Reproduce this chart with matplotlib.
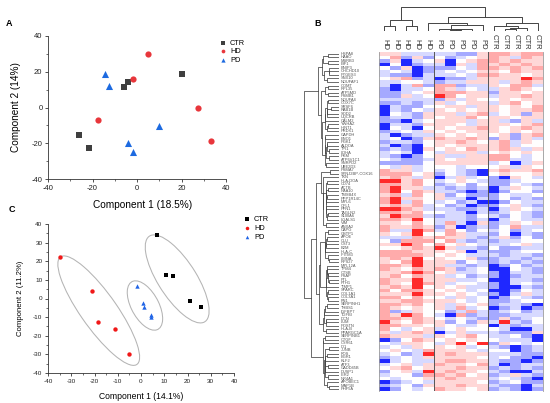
import numpy as np
import matplotlib
matplotlib.use("Agg")
import matplotlib.pyplot as plt
from matplotlib.patches import Ellipse
from matplotlib.colors import LinearSegmentedColormap

plt.rcParams["font.family"] = ["Liberation Sans", "DejaVu Sans"]
plt.rcParams["axes.unicode_minus"] = False

# ---------------------------------------------------------------------------
# Data
# ---------------------------------------------------------------------------

GROUPS = ["CTR", "HD", "PD"]

# Panel A: PCA scores (Component 1 = 18.5 %, Component 2 = 14 %)
A_CTR_X = [-26.2, -21.7, -5.8, -3.9, 20.2]
A_CTR_Y = [-15.6, -22.5, 11.3, 14.0, 18.6]
A_HD_X = [4.9, -1.9, -17.5, 27.4, 33.3]
A_HD_Y = [30.0, 16.0, -7.1, -0.2, -18.8]
A_PD_X = [-14.5, -12.4, 9.9, -4.0, -1.8]
A_PD_Y = [18.8, 12.3, -10.2, -19.9, -24.7]

# Panel C: PLS-DA scores (Component 1 = 14.1 %, Component 2 = 11.2 %)
C_CTR_X = [6.7, 10.6, 13.7, 21.1, 25.7]
C_CTR_Y = [34.1, 12.4, 12.0, -1.4, -4.5]
C_HD_X = [-34.9, -21.0, -18.6, -11.3, -5.1]
C_HD_Y = [22.4, 3.8, -12.7, -16.3, -29.8]
C_PD_X = [-1.9, 0.7, 1.3, 4.1, 4.3]
C_PD_Y = [6.6, -2.3, -4.5, -8.6, -10.0]

# Panel B: heatmap, samples in dendrogram order
COLUMN_LABELS = ["HD"] * 5 + ["PD"] * 5 + ["CTR"] * 5

# column dendrogram merges: (node_a, node_b, height); new nodes numbered from 15
COLUMN_MERGES = [
    (0, 1, 14), (2, 3, 14), (15, 16, 32),
    (6, 7, 4), (18, 8, 6), (5, 19, 7), (20, 9, 17), (4, 21, 22),
    (11, 12, 6), (23, 13, 8), (10, 24, 14), (25, 14, 24),
    (22, 26, 40), (17, 27, 70),
]

# z-score levels
LEVELS = {"B": -2.0, "b": -0.8, "c": -0.35, "w": 0.0, "p": 0.35, "r": 0.75, "R": 1.9}

HEAT_ROWS = [
    "ppccc ccbbp rrprr", "wrbpb wbcwp rpcrp", "bpBcw pBwpr rprpp", "BwBbc cBpcr prprp",
    "wbpBb bbwcr rprpr", "cwcBb cwcwp pwrpp", "cbbBc ccwcr rppwp", "wprbc Bbbcp pppRr",
    "ccwwc bccpp pcprp", "cBcrb rrbcc pwrrc", "bBccw rpcwc cprpw", "bbcwp rrrpp bppwp",
    "bbpcw Rrwpp cpprp", "ccccc bpcpw wpwpp", "bbcbc pcwpp cprwp", "Bcbbw wppcp pwpwr",
    "Bcbwc pwpwp pwppr", "Bwcbp ppcpr cwpbp", "bccbp wpprw ppwpp", "bbBcw pppcp pcbpc",
    "Bccbp ppwcp ppwpr", "BwcBw pwppr pwprp", "bcwcp wpwpp pwpwp", "cBbcc pwpwp wpbpr",
    "cwBbp rpprp bpbpc", "bccbw pprpw prcpw", "cBbBw pwppp prcww", "bcbBp wpwrp prpcp",
    "cwcBw cpppc wpwpw", "cbBbw pccpp rrwcw", "wcbbc pwppp rrccw", "bbbbw ppppp cwBcp",
    "wcpcw wwcww wpcpw", "rppcw cwcbB prppr", "rrrwp bwcbB wpwwp", "prpcp Bcpcw bBpwc",
    "RRprw cwpwc bbcww", "rrprw bcwbw bbwcb", "rRppc cbcbc Bcpwc", "rRwrp ccbBb Bbwwb",
    "prcrw pbwbb bwccw", "rRppw pccBc bwbcb", "rRcrw cwbcB Bbwcc", "prprc wbcBb bwpcb",
    "RRrpc ccbbc Bcpwc", "rrprw wccBc bcwcb", "pRrrc bccbw cbwcb", "rrpRw cccbc Bcwcc",
    "ppwrw crcBp bcpwp", "rpprp bpBbc bwrcc", "rccRr crwbw cwbcw", "pwpRw wrpcc bwBcb",
    "cccrp rppcb cpbwb", "wbrrr wrcbc bccww", "ppRrw rwpwc ccwpc", "wwprp Rpccb wbbcc",
    "rrrpp pwpBc bbcww", "rrrrp wpwcc cbccb", "prpRw pwwpb bccbc", "pwrRp ppbwc bcbcb",
    "rrpRp pccbc Bbwbc", "rpwrp rpbcw BBwcb", "pprRr wpccw bBccb", "prwrp pcwbc bBbcc",
    "rppRp ppccw BBccb", "rpwRr pcwwc bBcwc", "prpRw pwpcc bBBcb", "rwrrp wpwcw BBbwc",
    "pppRp pwpwc bBcpc", "rrwrw wcpcw Bbwcb", "pprrp ppwcw bbcww", "rrprw pcpwp bccbB",
    "rpwpw pcrcw BbcBb", "rbcpw wbcrc bcwbc", "rpRrw cBrbc bbccc", "rrprp wcwcb bpbcw",
    "Rpwrp pbwbp cRcbw", "rrppw pwccw Bcbcc", "rwcwp cwpww wcBBc", "pcprp Bcpcc cbbbp",
    "rpppc pwprw ccwbB", "Bbwrp wpwpw wcccB", "wcppw cpRwR bpwcw", "cwcpw pwpcw cbBbc",
    "wpwcr pppwc wwBbc", "cwbcR prppp cccbb", "bcwcp ppppw cwbbB", "Bcwcc prrpp cbbBb",
    "cwpcp rppwr cBbcc", "wprwp pprpp bcbcb", "bwpcR prppw cbBBc", "cwwbr rprwp bcpcb",
    "wcwwp prppp cwcbB", "Bbcwc ppppw bcwbb", "bcwbp pprpp cbbBc", "Bbwcw rppwp bcbBb",
]

GENES = [
    "HSPA8", "HAAO", "MSRB3", "EIF1", "BNIP3", "CHCHD10", "PTGES3", "SNX10",
    "NDUFAF1", "COMT", "RPL35", "ATP5MD", "PSMB1", "NDUFA4", "COX7C", "SRSF6",
    "RAB1B", "SOD2", "UQCRB", "CALM2", "YWHAZ", "HINT1", "PRDX1", "GAPDH",
    "ENO1", "PGK1", "ALDOA", "TPI1", "LDHA", "PKM", "ATP6V1C1", "SNRPD2",
    "UBE2D3", "PSMA7", "SYNJ2BP-COX16", "TXN", "HLA-DOA", "CD74", "ACTB", "NAA10",
    "TMSB4X", "PPP1R14C", "MYL6", "CFL1", "PFN1", "TAGLN2", "S100A6", "LGALS1",
    "VIM", "ANXA2", "CAPG", "GSTP1", "APOE", "CLU", "CST3", "B2M",
    "HLA-C", "IFITM3", "LMNA", "RPS27", "MYL12A", "TPM4", "CTSB", "PSAP",
    "FTL", "FTH1", "TIMP1", "SPARC", "COL1A1", "COL3A1", "FN1", "SERPINH1",
    "THBS1", "IGFBP7", "TGFBI", "DCN", "LUM", "POSTN", "HLA-B", "PPARGC1A",
    "SERPINB1", "CTGF", "CYR61", "ID1", "JUNB", "FOS", "EGR1", "KLF2",
    "ATF3", "GADD45B", "DUSP1", "IER2", "NR4A1", "APOBEC1", "MAP1B", "PHF5A",
]

# ---------------------------------------------------------------------------
# Styles
# ---------------------------------------------------------------------------

A_COLORS = {"CTR": "#3f3f3f", "HD": "#e8363b", "PD": "#1d6ae0"}
C_COLORS = {"CTR": "#000000", "HD": "#f01818", "PD": "#2064e6"}
MARKERS = {"CTR": "s", "HD": "o", "PD": "^"}
W, H = 550, 403


def px_axes(fig, left, top, right, bottom):
    """Add axes from pixel box (origin top-left)."""
    return fig.add_axes([left / W, 1 - bottom / H, (right - left) / W, (bottom - top) / H])


def style_scatter_axes(ax, major, minor, fs):
    for side in ("top", "right"):
        ax.spines[side].set_visible(False)
    for side in ("left", "bottom"):
        ax.spines[side].set_color("#333333")
        ax.spines[side].set_linewidth(0.6)
    ax.set_xlim(-40, 40)
    ax.set_ylim(-40, 40)
    ax.set_xticks(np.arange(-40, 41, major))
    ax.set_yticks(np.arange(-40, 41, major))
    ax.set_xticks(np.arange(-40, 41, minor), minor=True)
    ax.set_yticks(np.arange(-40, 41, minor), minor=True)
    ax.tick_params(which="major", length=2.5, width=0.6, labelsize=fs, pad=1.5,
                   color="#333333", labelcolor="#222222")
    ax.tick_params(which="minor", length=1.4, width=0.5, color="#333333")


def group_ellipse(ax, xs, ys, scale=1.21, pad=5.5):
    pts = np.column_stack([xs, ys])
    vals, vecs = np.linalg.eigh(np.cov(pts, rowvar=False))
    order = vals.argsort()[::-1]
    vals, vecs = vals[order], vecs[:, order]
    angle = np.degrees(np.arctan2(vecs[1, 0], vecs[0, 0]))
    ax.add_patch(Ellipse(pts.mean(axis=0), 2 * (scale * np.sqrt(vals[0]) + pad),
                         2 * (scale * np.sqrt(vals[1]) + pad), angle=angle,
                         fill=False, ec="#b4b4b4", lw=0.75, zorder=1))


def contiguous_ward(mat):
    """Agglomerate neighbouring rows only, so the drawn order is kept."""
    members = [[i] for i in range(len(mat))]
    pos = [float(i) for i in range(len(mat))]
    hts = [0.0] * len(mat)
    links = []
    while len(members) > 1:
        d = []
        for k in range(len(members) - 1):
            a, b = mat[members[k]], mat[members[k + 1]]
            na, nb = len(a), len(b)
            d.append(np.sqrt(2 * na * nb / (na + nb)) * np.linalg.norm(a.mean(0) - b.mean(0)))
        k = int(np.argmin(d))
        h = max(d[k], hts[k], hts[k + 1])
        links.append((pos[k], hts[k], pos[k + 1], hts[k + 1], h))
        members[k:k + 2] = [members[k] + members[k + 1]]
        pos[k:k + 2] = [(pos[k] + pos[k + 1]) / 2]
        hts[k:k + 2] = [h]
    return links


fig = plt.figure(figsize=(W / 100, H / 100), dpi=100)

# ── Panel A ──────────────────────────────────────────────────────────────
ax_a = px_axes(fig, 48, 36, 226, 179)
style_scatter_axes(ax_a, 20, 10, 5.5)
a_data = {"CTR": (A_CTR_X, A_CTR_Y), "HD": (A_HD_X, A_HD_Y), "PD": (A_PD_X, A_PD_Y)}
a_sizes = {"CTR": 17, "HD": 20, "PD": 26}
for g in GROUPS:
    ax_a.scatter(*a_data[g], s=a_sizes[g], marker=MARKERS[g], color=A_COLORS[g],
                 lw=0, label=g, clip_on=False, zorder=3)
ax_a.set_xlabel("Component 1 (18.5%)", fontsize=7.3)
ax_a.set_ylabel("Component 2 (14%)", fontsize=7.2)
ax_a.xaxis.set_label_coords(0.53, -0.15)
ax_a.yaxis.set_label_coords(-0.15, 0.5)
ax_a.legend(loc="upper left", bbox_to_anchor=(219 / W, 1 - 39.5 / H),
            bbox_transform=fig.transFigure, frameon=False, fontsize=5.3,
            handlelength=1.0, handletextpad=0.5, labelspacing=0.2,
            borderpad=0, borderaxespad=0, markerscale=0.6)
fig.text(9 / W, 1 - 23 / H, "A", fontsize=6.5, fontweight="bold", ha="center", va="center")

# ── Panel C ──────────────────────────────────────────────────────────────
ax_c = px_axes(fig, 48, 224, 234, 373)
style_scatter_axes(ax_c, 10, 5, 4.6)
c_data = {"CTR": (C_CTR_X, C_CTR_Y), "HD": (C_HD_X, C_HD_Y), "PD": (C_PD_X, C_PD_Y)}
for g in GROUPS:
    group_ellipse(ax_c, *c_data[g])
    ax_c.scatter(*c_data[g], s=10, marker=MARKERS[g], color=C_COLORS[g], lw=0,
                 label=g, zorder=3)
ax_c.set_xlabel("Component 1 (14.1%)", fontsize=6.2)
ax_c.set_ylabel("Component 2 (11.2%)", fontsize=5.6)
ax_c.xaxis.set_label_coords(0.5, -0.13)
ax_c.yaxis.set_label_coords(-0.13, 0.5)
ax_c.legend(loc="upper left", bbox_to_anchor=(243 / W, 1 - 215.5 / H),
            bbox_transform=fig.transFigure, frameon=False, fontsize=5.3,
            handlelength=1.0, handletextpad=0.5, labelspacing=0.3,
            borderpad=0, borderaxespad=0, markerscale=0.8)
fig.text(12 / W, 1 - 210 / H, "C", fontsize=6.5, fontweight="bold", ha="center", va="center")

# ── Panel B: heatmap ─────────────────────────────────────────────────────
heat = np.array([[LEVELS[ch] for ch in row.replace(" ", "")] for row in HEAT_ROWS])
n_rows, n_cols = heat.shape
cmap = LinearSegmentedColormap.from_list("bwr_ref", ["#0a14ff", "#ffffff", "#ff0a0a"])

ax_h = px_axes(fig, 379, 52, 543, 391)
ax_h.imshow(heat, cmap=cmap, vmin=-2.2, vmax=2.2, aspect="auto", interpolation="nearest")
for xb in (4.5, 9.5):
    ax_h.axvline(xb, color="#555555", lw=0.7)
for sp in ax_h.spines.values():
    sp.set_color("#9a9a9a")
    sp.set_linewidth(0.6)
ax_h.spines["top"].set_visible(False)
ax_h.spines["bottom"].set_visible(False)
ax_h.set_yticks([])
ax_h.set_xticks(range(n_cols))
ax_h.set_xticklabels(COLUMN_LABELS, rotation=-90, fontsize=5.5, color="#333333")
ax_h.xaxis.tick_top()
ax_h.tick_params(axis="x", length=0, pad=1.5)

# column dendrogram
ax_cd = px_axes(fig, 379, 7, 543, 31)
node_pos = {i: float(i) for i in range(n_cols)}
node_h = {i: 0.0 for i in range(n_cols)}
for k, (a, b, h) in enumerate(COLUMN_MERGES):
    ax_cd.plot([node_pos[a], node_pos[a], node_pos[b], node_pos[b]],
               [node_h[a], h, h, node_h[b]], color="#444444", lw=0.7)
    node_pos[n_cols + k] = (node_pos[a] + node_pos[b]) / 2
    node_h[n_cols + k] = h
ax_cd.set_xlim(-0.5, n_cols - 0.5)
ax_cd.set_ylim(0, max(m[2] for m in COLUMN_MERGES))
ax_cd.axis("off")

# row dendrogram (distance shown on a square-root scale)
ax_rd = px_axes(fig, 304, 52, 339, 391)
links = contiguous_ward(heat)
for ya, ha, yb, hb, h in links:
    ax_rd.plot(np.sqrt([ha, h, h, hb]), [ya, ya, yb, yb], color="#444444", lw=0.55)
ax_rd.set_ylim(n_rows - 0.5, -0.5)
ax_rd.set_xlim(np.sqrt(max(l[4] for l in links)), 0)
ax_rd.axis("off")
row_tf = ax_rd.get_yaxis_transform()
for i, gene in enumerate(GENES):
    ax_rd.text(1.06, i, gene, transform=row_tf, fontsize=2.9, color="#555555",
               ha="left", va="center", clip_on=False)

fig.text(318 / W, 1 - 23 / H, "B", fontsize=6.5, fontweight="bold", ha="center", va="center")

fig.savefig("out.png", dpi=100)
